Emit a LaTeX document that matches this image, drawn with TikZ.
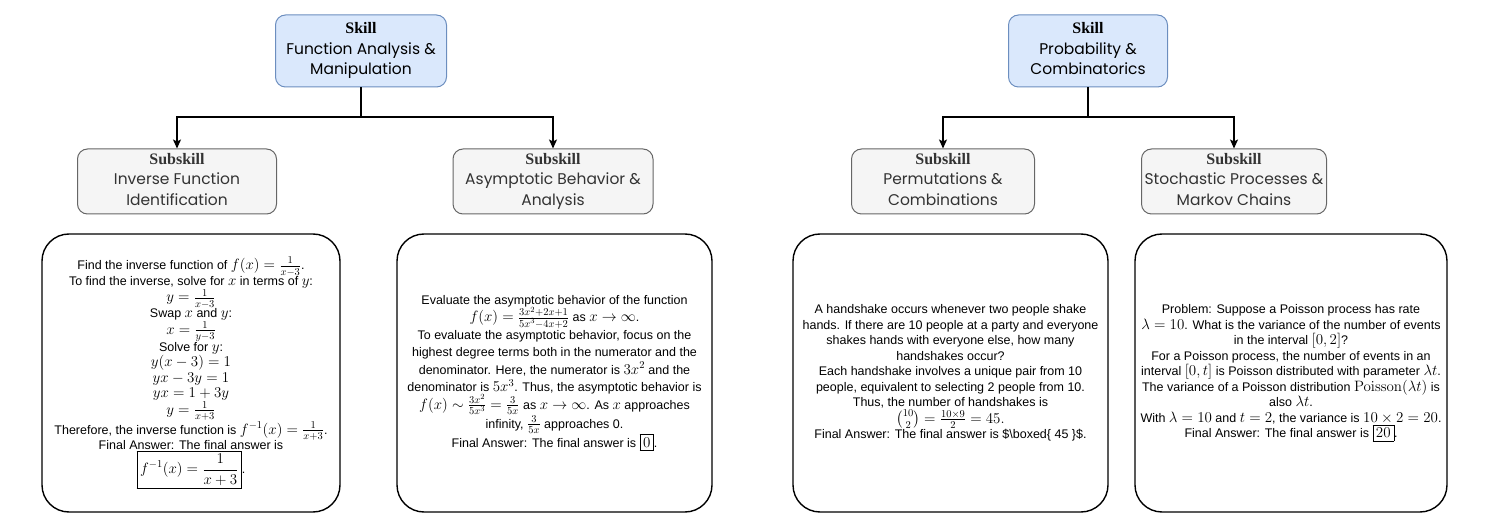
\RequirePackage{fix-cm}
\documentclass[tikz,border=0pt]{standalone}
\usepackage{amsmath}
\usepackage[no-math]{fontspec}
\setmainfont{Liberation Sans}
\newfontfamily\labfont{Poppins}
\newfontfamily\hdfont{Liberation Serif}
\DeclareMathSizes{12.5}{15}{10.5}{8}
\usetikzlibrary{arrows.meta}
\definecolor{skillfill}{HTML}{DAE8FC}
\definecolor{skilldraw}{HTML}{6C8EBF}
\definecolor{subfill}{HTML}{F5F5F5}
\definecolor{subdraw}{HTML}{666666}
\definecolor{subtext}{HTML}{333333}
\tikzset{
  skillbox/.style={draw=skilldraw, fill=skillfill, line width=1pt, rounded corners=10pt,
    minimum height=72pt, align=center, inner sep=0pt,
    font=\labfont\fontsize{15.5}{20.5}\selectfont},
  subbox/.style={draw=subdraw, fill=subfill, line width=1pt, rounded corners=10pt,
    minimum height=65pt, align=center, inner sep=0pt, text=subtext,
    font=\labfont\fontsize{15.5}{20.5}\selectfont},
  textbox/.style={draw=black, line width=1.4pt, rounded corners=27pt,
    minimum height=278pt, align=center, inner sep=0pt,
    font=\fontsize{12.5}{15.5}\selectfont},
  arr/.style={line width=1.3pt, -{Stealth[length=9pt,width=8pt,inset=2pt]}},
  lnk/.style={line width=1.3pt},
}
\newcommand{\hd}[1]{{\hdfont\bfseries\fontsize{16}{20}\selectfont #1}}
\newcommand{\lastdepth}{\vphantom{gy}}
\begin{document}
\begin{tikzpicture}[x=1pt,y=-1pt]
\useasboundingbox (0,0) rectangle (1489,526);

% skills
\node[skillbox, minimum width=171pt] (s1) at (361,51) {\hd{Skill}\\Function Analysis \&\\Manipulation\lastdepth};
\node[skillbox, minimum width=159pt] (s2) at (1088,51) {\hd{Skill}\\Probability \&\\Combinatorics\lastdepth};

% subskills
\node[subbox, minimum width=199pt] (ss1) at (177,181.5) {\hd{Subskill}\\Inverse Function\\Identification\lastdepth};
\node[subbox, minimum width=200pt] (ss2) at (553,181.5) {\hd{Subskill}\\Asymptotic Behavior \&\\Analysis\lastdepth};
\node[subbox, minimum width=183pt] (ss3) at (943,181.5) {\hd{Subskill}\\Permutations \&\\Combinations\lastdepth};
\node[subbox, minimum width=185pt] (ss4) at (1234,181.5) {\hd{Subskill}\\Stochastic Processes \&\\Markov Chains\lastdepth};

% junctions
\coordinate (j1) at (s1.south |- 0,117);
\coordinate (j2) at (s2.south |- 0,117);
\draw[lnk] (s1.south) -- (j1);
\draw[arr] (j1) -| (ss1.north);
\draw[arr] (j1) -| (ss2.north);
\draw[lnk] (s2.south) -- (j2);
\draw[arr] (j2) -| (ss3.north);
\draw[arr] (j2) -| (ss4.north);

% text boxes
\node[textbox, minimum width=298pt] (t1) at (191,373) {%
Find the inverse function of $f(x)=\frac{1}{x-3}$.\\
To find the inverse, solve for $x$ in terms of $y$:\\
$y=\frac{1}{x-3}$\\
Swap $x$ and $y$:\\
$x=\frac{1}{y-3}$\\
Solve for $y$:\\
$y(x-3)=1$\\
$yx-3y=1$\\
$yx=1+3y$\\
$y=\frac{1}{x+3}$\\
Therefore, the inverse function is $f^{-1}(x)=\frac{1}{x+3}$.\\
Final Answer: The final answer is\\
$\boxed{f^{-1}(x)=\dfrac{1}{x+3}}$.};

\node[textbox, minimum width=315pt, font=\fontsize{12.5}{17.5}\selectfont] (t2) at (554.5,373) {%
Evaluate the asymptotic behavior of the function\\
$f(x)=\frac{3x^2+2x+1}{5x^3-4x+2}$ as $x\to\infty$.\\
To evaluate the asymptotic behavior, focus on the\\
highest degree terms both in the numerator and the\\
denominator. Here, the numerator is $3x^2$ and the\\
denominator is $5x^3$. Thus, the asymptotic behavior is\\
$f(x)\sim\frac{3x^2}{5x^3}=\frac{3}{5x}$ as $x\to\infty$. As $x$ approaches\\
infinity, $\frac{3}{5x}$ approaches 0.\\
Final Answer: The final answer is $\boxed{0}$.};

\node[textbox, minimum width=315pt] (t3) at (950.5,373) {%
A handshake occurs whenever two people shake\\
hands. If there are 10 people at a party and everyone\\
shakes hands with everyone else, how many\\
handshakes occur?\\
Each handshake involves a unique pair from 10\\
people, equivalent to selecting 2 people from 10.\\
Thus, the number of handshakes is\\[1pt]
$\binom{10}{2}=\frac{10\times 9}{2}=45.$\\
Final Answer: The final answer is \$\textbackslash boxed\{ 45 \}\$.};

\node[textbox, minimum width=312pt] (t4) at (1291,373) {%
Problem: Suppose a Poisson process has rate\\
$\lambda=10$. What is the variance of the number of events\\
in the interval $[0,2]$?\\
For a Poisson process, the number of events in an\\
interval $[0,t]$ is Poisson distributed with parameter $\lambda t$.\\
The variance of a Poisson distribution $\mathrm{Poisson}(\lambda t)$ is\\
also $\lambda t$.\\
With $\lambda=10$ and $t=2$, the variance is $10\times 2=20$.\\
Final Answer: The final answer is $\boxed{20}$.};
\end{tikzpicture}
\end{document}
